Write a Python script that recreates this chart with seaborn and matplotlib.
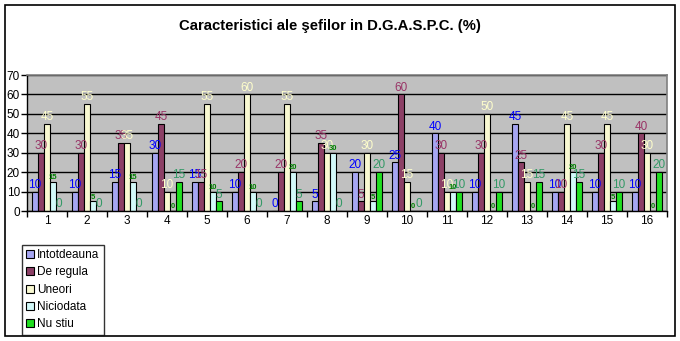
import matplotlib
matplotlib.use("Agg")
import matplotlib.pyplot as plt
import matplotlib.patches as mpatches
import numpy as np
import pandas as pd
import seaborn as sns

plt.rcParams["font.family"] = ["Liberation Sans", "DejaVu Sans"]

# Categories (item numbers) and percentage values per answer
categories = [str(i) for i in range(1, 17)]
series_names = ["Intotdeauna", "De regula", "Uneori", "Niciodata", "Nu stiu"]
intotdeauna = [10, 10, 15, 30, 15, 10, 0, 5, 20, 25, 40, 10, 45, 10, 10, 10]
de_regula = [30, 30, 35, 45, 15, 20, 20, 35, 5, 60, 30, 30, 25, 10, 30, 40]
uneori = [45, 55, 35, 10, 55, 60, 55, 30, 30, 15, 10, 50, 15, 45, 45, 30]
niciodata = [15, 5, 15, 0, 10, 10, 20, 30, 5, 0, 10, 0, 0, 20, 5, 0]
nu_stiu = [0, 0, 0, 15, 5, 0, 5, 0, 20, 0, 10, 10, 15, 15, 10, 20]
y_ticks = [0, 10, 20, 30, 40, 50, 60, 70]

values = [intotdeauna, de_regula, uneori, niciodata, nu_stiu]
df = pd.DataFrame({
    "cat": np.tile(categories, len(series_names)),
    "serie": np.repeat(series_names, len(categories)),
    "val": np.concatenate(values),
})

bar_colors = ["#9999FF", "#993366", "#FFFFCC", "#CCFFFF", "#00FF00"]
label_colors = ["#0000FF", "#993366", "#FFFFCC", "#008000", "#339966"]
label_sizes = [8.5, 8.5, 8.5, 5.5, 8.5]
label_weights = ["normal", "normal", "normal", "bold", "normal"]

fig = plt.figure(figsize=(6.8, 3.41), dpi=100)
ax = fig.add_axes([27 / 680, 1 - 211 / 341, 640 / 680, 136 / 341])

sns.barplot(data=df, x="cat", y="val", hue="serie", order=categories,
            hue_order=series_names, palette=bar_colors, edgecolor="black",
            linewidth=0.8, width=0.75, gap=0, ax=ax, legend=True)

for cont, col, fs, fw in zip(ax.containers, label_colors, label_sizes, label_weights):
    ax.bar_label(cont, labels=[f"{v:g}" for v in cont.datavalues],
                 color=col, fontsize=fs, fontweight=fw, padding=0.5)

ax.set_facecolor("#C0C0C0")
ax.set_ylim(0, 70)
ax.set_xlim(-0.5, len(categories) - 0.5)
ax.set_yticks(y_ticks)
ax.set_yticklabels([str(t) for t in y_ticks], fontsize=8.5)
ax.yaxis.grid(True, color="black", linewidth=1)
ax.set_axisbelow(True)
ax.set_xlabel("")
ax.set_ylabel("")
ax.set_xticks(range(len(categories)))
ax.set_xticklabels(categories, fontsize=8.5)
ax.set_xticks(np.arange(-0.5, len(categories)), minor=True)
ax.tick_params(axis="x", which="major", length=0, pad=3)
ax.tick_params(axis="x", which="minor", length=4, width=1, color="black")
ax.tick_params(axis="y", length=4, width=1, color="black", pad=1)
for side in ("top", "right"):
    ax.spines[side].set_color("#808080")
    ax.spines[side].set_linewidth(1.2)
for side in ("left", "bottom"):
    ax.spines[side].set_color("black")
    ax.spines[side].set_linewidth(1)

handles, labels = ax.get_legend_handles_labels()
ax.get_legend().remove()
leg = fig.legend(handles, labels, loc="upper left",
                 bbox_to_anchor=(22 / 680, 1 - 245 / 341), fontsize=8.5,
                 frameon=True, fancybox=False, edgecolor="black",
                 handlelength=0.65, handleheight=0.65, handletextpad=0.3,
                 labelspacing=0.45, borderpad=0.35, borderaxespad=0)
leg.get_frame().set_linewidth(1)

fig.text(330 / 680, 1 - 26 / 341, "Caracteristici ale şefilor in D.G.A.S.P.C. (%)",
         ha="center", va="center", fontsize=10.7, fontweight="bold")

fig.patches.append(mpatches.Rectangle((5 / 680, 5 / 341), 670 / 680, 331 / 341,
                                      transform=fig.transFigure, fill=False,
                                      edgecolor="black", linewidth=1.2))

fig.savefig("out.png", dpi=100, facecolor="white")
